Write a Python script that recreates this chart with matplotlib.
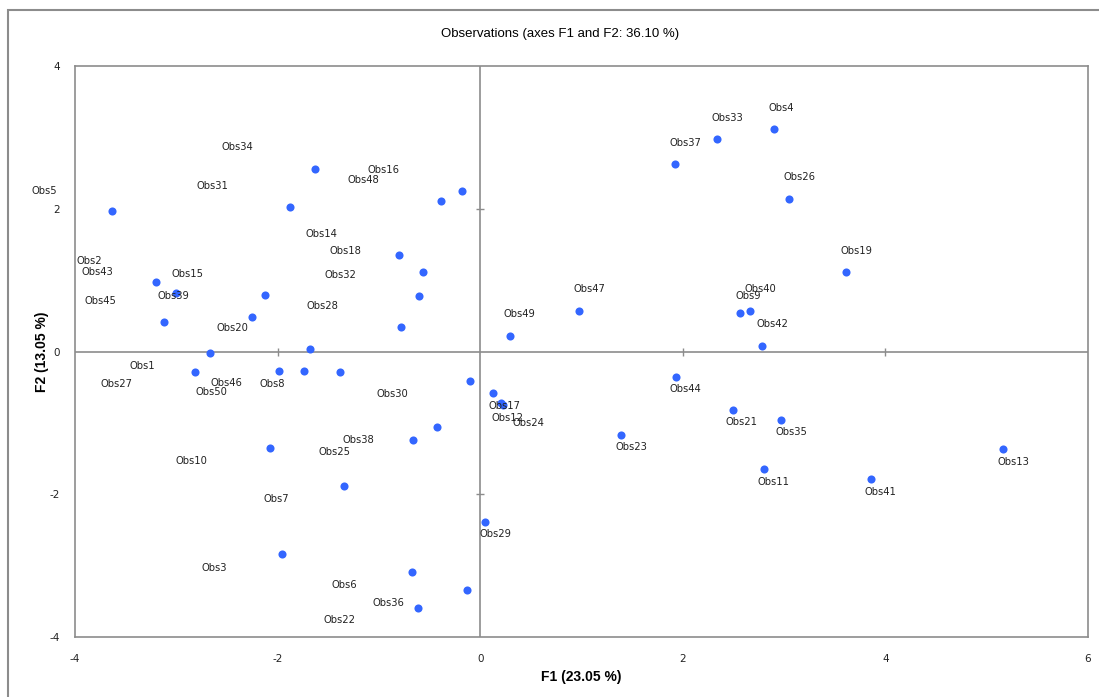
import matplotlib
matplotlib.use("Agg")
from matplotlib import pyplot as plt
from matplotlib.patches import Rectangle

plt.rcParams["axes.unicode_minus"] = False

# observation coordinates on F1 / F2
obs = ["Obs%d" % i for i in range(1, 51)]
f1 = [-2.664, -3.203, -1.957, 2.896, -3.632, -0.673, -1.345, -1.381, 2.569, -2.075,
      2.802, 0.205, 5.160, -0.802, -2.121, -0.183, 0.131, -0.565, 3.611, -1.677,
      2.498, -0.614, 1.389, 0.225, -0.666, 3.046, -2.815, -0.785, 0.051, -0.098,
      -1.875, -0.604, 2.340, -1.628, 2.971, -0.130, 1.925, -0.426, -2.256, 2.663,
      3.856, 2.785, -3.003, 1.933, -3.118, -1.739, 0.978, -0.384, 0.297, -1.983]
f2 = [-0.017, 0.974, -2.841, 3.117, 1.964, -3.085, -1.889, -0.283, 0.535, -1.348,
      -1.646, -0.726, -1.370, 1.356, 0.792, 2.253, -0.586, 1.118, 1.114, 0.035,
      -0.815, -3.589, -1.166, -0.749, -1.236, 2.141, -0.283, 0.347, -2.385, -0.418,
      2.025, 0.782, 2.973, 2.553, -0.960, -3.337, 2.623, -1.058, 0.479, 0.572,
      -1.782, 0.081, 0.824, -0.357, 0.418, -0.273, 0.572, 2.109, 0.221, -0.273]

# where the labels ended up in the original chart
lab_x = [-3.332, -3.859, -2.625, 2.967, -4.299, -1.342, -2.013, -2.048, 2.648, -2.852,
         2.900, 0.268, 5.260, -1.572, -2.894, -0.953, 0.239, -1.335, 3.715, -2.450,
         2.584, -1.387, 1.489, 0.479, -1.440, 3.150, -3.588, -1.559, 0.151, -0.871,
         -2.648, -1.381, 2.444, -2.398, 3.071, -0.903, 2.029, -1.199, -3.030, 2.768,
         3.947, 2.881, -3.776, 2.029, -3.753, -2.509, 1.082, -1.157, 0.392, -2.654]
lab_y = [-0.203, 1.268, -3.029, 3.416, 2.253, -3.267, -2.062, -0.455, 0.773, -1.530,
         -1.824, -0.927, -1.544, 1.650, 1.086, 2.547, -0.759, 1.412, 1.412, 0.329,
         -0.988, -3.762, -1.338, -1.006, -1.408, 2.441, -0.455, 0.642, -2.557, -0.591,
         2.319, 1.072, 3.271, 2.861, -1.132, -3.524, 2.921, -1.240, 0.778, 0.871,
         -1.968, 0.385, 1.110, -0.530, 0.712, -0.446, 0.871, 2.399, 0.530, -0.567]

xticks = [-4, -2, 0, 2, 4, 6]
yticks = [-4, -2, 0, 2, 4]

grey = "#8c8c8c"

fig = plt.figure(figsize=(10.99, 6.97), dpi=100)
# outer chart frame (cropped at right and bottom)
fig.patches.append(Rectangle((8 / 1099, -0.1), 1.2, 1.1 - 10 / 697,
                             transform=fig.transFigure, fill=False,
                             edgecolor=grey, linewidth=1.5))

ax = fig.add_axes([75 / 1099, 1 - 637 / 697, 1013 / 1099, 571 / 697])
ax.set_xlim(-4, 6)
ax.set_ylim(-4, 4)

for s in ax.spines.values():
    s.set_color(grey)
    s.set_linewidth(1.2)

ax.axhline(0, color=grey, lw=1.2, zorder=1)
ax.axvline(0, color=grey, lw=1.2, zorder=1)

# small crossing ticks on the zero lines
xin = [t for t in xticks if t not in (-4, 0, 6)]
yin = [t for t in yticks if t not in (-4, 0, 4)]
ax.plot(xin, [0] * len(xin), ls="none", marker="|", ms=6, mew=1, color=grey, zorder=1)
ax.plot([0] * len(yin), yin, ls="none", marker="_", ms=6, mew=1, color=grey, zorder=1)

ax.set_xticks(xticks)
ax.set_yticks(yticks)
ax.tick_params(length=0, labelsize=7.5, labelcolor="#222222")
ax.tick_params(axis="x", pad=12)
ax.tick_params(axis="y", pad=11)

ax.scatter(f1, f2, s=34, color="#3366ff", zorder=3, linewidths=0)

for name, x, y in zip(obs, lab_x, lab_y):
    ax.text(x, y, name, ha="center", va="center", fontsize=7.2,
            color="#222222", zorder=4, clip_on=False)

ax.set_xlabel("F1 (23.05 %)", fontsize=10, fontweight="bold", labelpad=4.5,
              family="Liberation Sans")
ax.set_ylabel("F2 (13.05 %)", fontsize=10, fontweight="bold", labelpad=0,
              family="Liberation Sans")
fig.text(560 / 1099, 1 - 34 / 697, "Observations (axes F1 and F2: 36.10 %)",
         ha="center", va="center", fontsize=9.5, family="Liberation Sans")

fig.savefig("out.png", dpi=100)
